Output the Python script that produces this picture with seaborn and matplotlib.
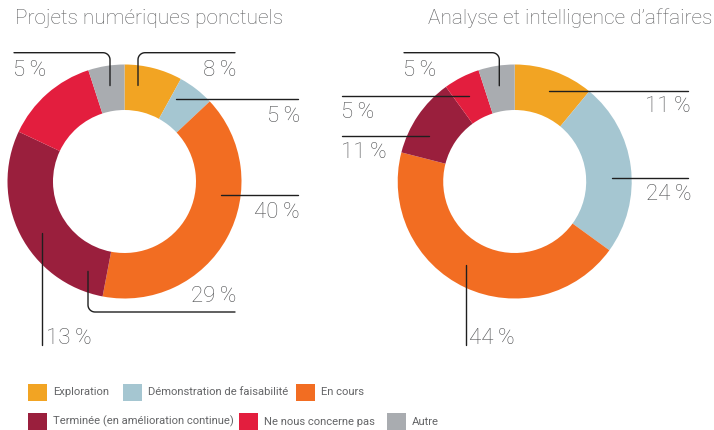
import numpy as np
import matplotlib
matplotlib.use("Agg")
import matplotlib.pyplot as plt
import seaborn as sns
from matplotlib.patches import Rectangle

# data
categories = ["Exploration", "Démonstration de faisabilité", "En cours",
              "Terminée (en amélioration continue)", "Ne nous concerne pas", "Autre"]
projets_ponctuels = [8, 5, 40, 29, 13, 5]
analyse_affaires = [11, 24, 44, 11, 5, 5]
titles = ["Projets numériques ponctuels", "Analyse et intelligence d\u2019affaires"]

colors = sns.color_palette(["#F2A423", "#A5C6D1", "#F26D22", "#9A1F3D", "#E31E3E", "#A9ACB0"])

sns.set_theme(style="white")
plt.rcParams["font.family"] = ["Roboto", "DejaVu Sans"]

W, H = 714, 430
fig = plt.figure(figsize=(W / 100, H / 100), dpi=100)

# donut placement in pixels: centre x, centre y, outer radius
donuts = [(124.5, 181.5, 117), (514.7, 181.5, 117)]
hole = 71.5 / 117

for (cx, cy, r), vals in zip(donuts, [projets_ponctuels, analyse_affaires]):
    ax = fig.add_axes([(cx - r) / W, (H - cy - r) / H, 2 * r / W, 2 * r / H])
    ax.pie(vals, colors=colors, startangle=90, counterclock=False,
           wedgeprops=dict(width=1 - hole, edgecolor="none", linewidth=0))
    ax.set_xlim(-1, 1)
    ax.set_ylim(-1, 1)
    ax.set_axis_off()

# overlay in pixel coords for leaders, titles, legend
ov = fig.add_axes([0, 0, 1, 1], zorder=5)
ov.set_xlim(0, W)
ov.set_ylim(H, 0)
ov.set_axis_off()
ov.patch.set_alpha(0)

LINE = "#1f1f1f"
TXT = "#505153"
R_ANCH = 97


def anchor_v(cx, cy, x, up):
    d = np.sqrt(max(R_ANCH ** 2 - (x - cx) ** 2, 0))
    return cy - d if up else cy + d


def anchor_h(cx, cy, y, right):
    d = np.sqrt(max(R_ANCH ** 2 - (y - cy) ** 2, 0))
    return cx + d if right else cx - d


def corner(x0, y0, ylevel, xend, rad=7):
    sx = np.sign(xend - x0)
    sy = np.sign(ylevel - y0)
    t = np.linspace(0, np.pi / 2, 12)
    ccx, ccy = x0 + sx * rad, ylevel - sy * rad
    xs = np.concatenate([[x0], ccx - sx * rad * np.cos(t), [xend]])
    ys = np.concatenate([[y0], ccy + sy * rad * np.sin(t), [ylevel]])
    ov.plot(xs, ys, color=LINE, lw=1)


# leader layout per chart: (kind, level, turn level, end, text x, text y, ha)
layouts = [
    [("cu", 138, 52.7, 235, 236, 71, "right"),
     ("h", 99.3, None, 298, 300, 117, "right"),
     ("h", 195, None, 298, 300, 212, "right"),
     ("cd", 88, 312, 235, 236, 297, "right"),
     ("v", 42, None, 345, 46, 338, "left"),
     ("cu", 110, 52.7, 14, 13, 71, "left")],
    [("h", 90.7, None, 688, 691, 107, "right"),
     ("h", 177.7, None, 688, 691, 194, "right"),
     ("v", 465.7, None, 345, 469, 338, "left"),
     ("h", 136, None, 342, 341, 153, "left"),
     ("h", 95.7, None, 342, 341, 113, "left"),
     ("cu", 499.3, 52.7, 404, 403, 71, "left")],
]

for (cx, cy, r), vals, lay in zip(donuts, [projets_ponctuels, analyse_affaires], layouts):
    for v, (kind, lev, turn, end, tx, ty, ha) in zip(vals, lay):
        if kind == "h":
            x0 = anchor_h(cx, cy, lev, end > cx)
            ov.plot([x0, end], [lev, lev], color=LINE, lw=1)
        elif kind == "v":
            y0 = anchor_v(cx, cy, lev, end < cy)
            ov.plot([lev, lev], [y0, end], color=LINE, lw=1)
        else:
            y0 = anchor_v(cx, cy, lev, kind == "cu")
            corner(lev, y0, turn, end)
        ov.text(tx, ty, f"{v}\u2009%", ha=ha, va="center", fontsize=16,
                color=TXT, fontweight="light")

for tx, ha, t in [(15, "left", titles[0]), (712, "right", titles[1])]:
    ov.text(tx, 18, t, ha=ha, va="center", fontsize=15, color="#5f6062",
            fontweight="light")

# legend
leg_pos = [(27.7, 392.3), (123, 392.3), (295.7, 392.3),
           (27.7, 421.7), (238.7, 421.7), (386.7, 421.7)]
for (lx, ly), lab, c in zip(leg_pos, categories, colors):
    ov.add_patch(Rectangle((lx, ly - 8.5), 19, 17, facecolor=c, edgecolor="none"))
    ov.text(lx + 25, ly, lab, ha="left", va="center", color="#646567",
            fontsize=8.1)

fig.savefig("out.png", dpi=100)
